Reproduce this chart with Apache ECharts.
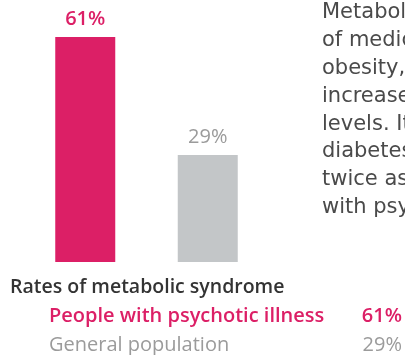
<!DOCTYPE html>
<html>
<head>
<meta charset="utf-8">
<script src="https://cdn.jsdelivr.net/npm/echarts@6/dist/echarts.min.js"></script>
<style>
  html, body { margin: 0; padding: 0; background: #fff; }
  #chart { width: 405px; height: 355px; }
</style>
</head>
<body>
<div id="chart"></div>
<script>
// Rates of metabolic syndrome, in percent
const categories = ['People with psychotic illness', 'General population'];
const rates = [61, 29];
const title = 'Rates of metabolic syndrome';
const bodyLines = [
  'Metabolic syndrome is a cluster',
  'of medical conditions including',
  'obesity, high blood pressure,',
  'increased blood sugar and cholesterol',
  'levels. It raises the risk of heart disease,',
  'diabetes and stroke, and is more than',
  'twice as common among people',
  'with psychotic illness.'
];

const PINK = '#dc1f66';
const BAR_GREY = '#c3c6c8';
const TEXT_GREY = '#9b9b9b';
const barColors = [PINK, BAR_GREY];
const labelColors = [PINK, TEXT_GREY];
const labelWeights = [600, 400];

const chart = echarts.init(document.getElementById('chart'), null, { renderer: 'canvas' });

const graphics = [];
// paragraph at the right, running past the edge
bodyLines.forEach((line, i) => {
  graphics.push({
    type: 'text', x: 322, y: 2 + i * 27.9,
    style: {
      text: line, fill: '#4a4a4a', fontFamily: 'DejaVu Sans', fontSize: 21,
      fontWeight: 400, verticalAlign: 'top'
    }
  });
});
// key below the bars
graphics.push({
  type: 'text', x: 10, y: 277,
  style: {
    text: title, fill: '#333', fontFamily: 'Open Sans', fontSize: 19.5,
    fontWeight: 600, verticalAlign: 'top'
  }
});
categories.forEach((name, i) => {
  const style = {
    fill: labelColors[i], fontFamily: 'Open Sans', fontSize: 20,
    fontWeight: labelWeights[i], verticalAlign: 'top'
  };
  graphics.push({
    type: 'text', x: 49, y: 306 + i * 29,
    style: Object.assign({ text: name }, style)
  });
  graphics.push({
    type: 'text', x: 402, y: 306 + i * 29,
    style: Object.assign({ text: rates[i] + '%', align: 'right' }, style)
  });
});

chart.setOption({
  animation: false,
  grid: { left: 24, width: 245, top: 37, bottom: 93 },
  xAxis: {
    type: 'category', data: categories,
    axisLine: { show: false }, axisTick: { show: false }, axisLabel: { show: false }
  },
  yAxis: {
    type: 'value', min: 0, max: Math.max(...rates),
    show: false, splitLine: { show: false }
  },
  series: [{
    type: 'bar',
    barWidth: 60,
    data: rates.map((v, i) => ({
      value: v,
      itemStyle: { color: barColors[i] },
      label: { color: labelColors[i], fontWeight: labelWeights[i] }
    })),
    label: {
      show: true, position: 'top', distance: 8,
      formatter: '{c}%', fontSize: 20, fontFamily: 'Open Sans'
    }
  }],
  graphic: graphics
});
</script>
</body>
</html>
